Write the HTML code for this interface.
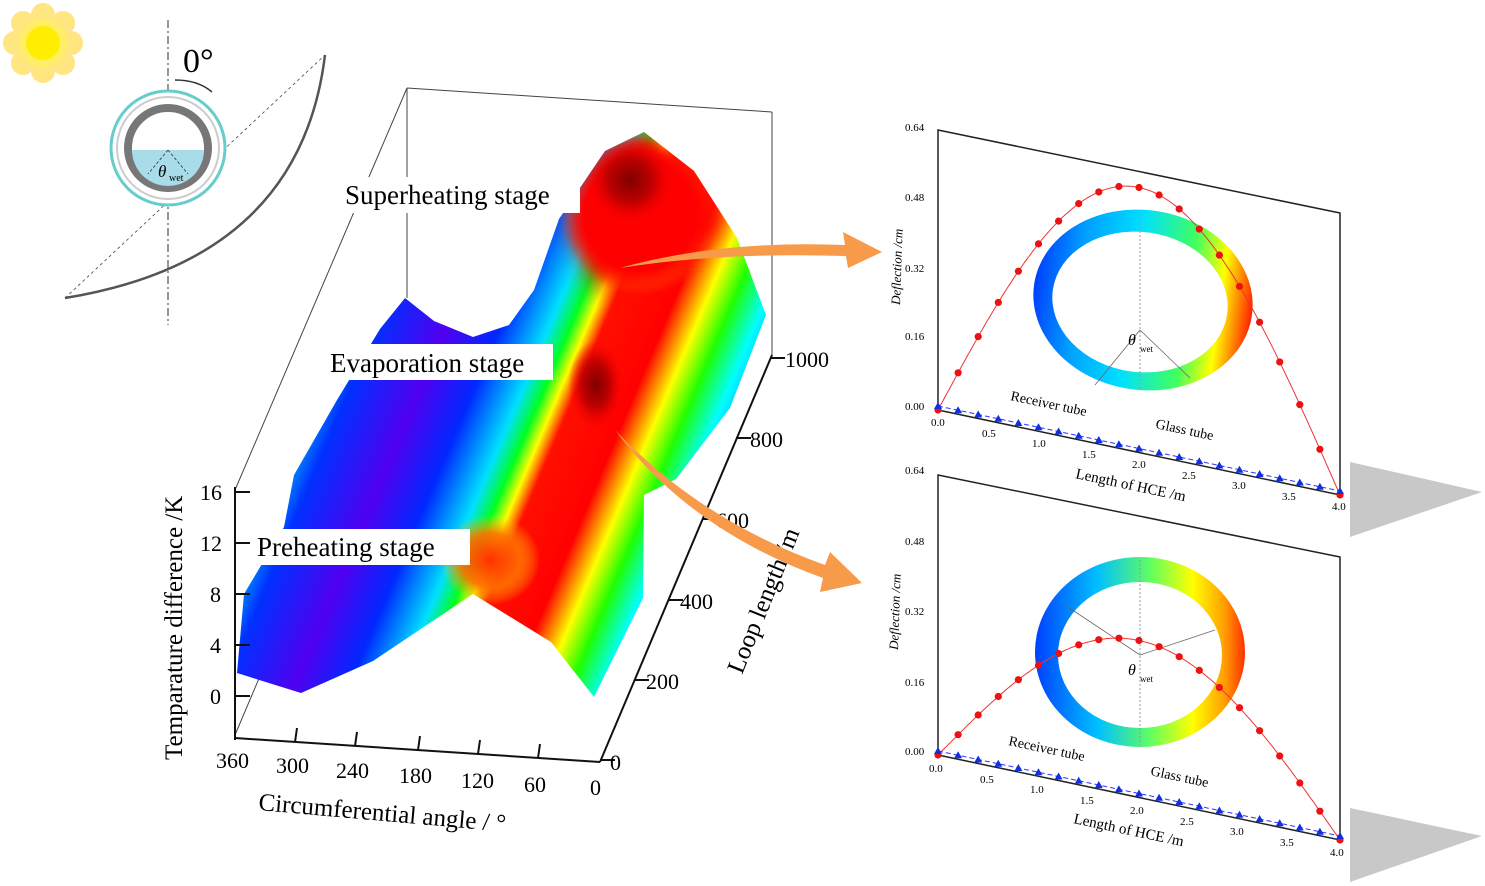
<!DOCTYPE html>
<html><head><meta charset="utf-8"><style>
html,body{margin:0;padding:0;background:#fff;}
svg{display:block;font-family:"Liberation Serif",serif;}
</style></head><body>
<svg width="1485" height="886" viewBox="0 0 1485 886" xmlns="http://www.w3.org/2000/svg">
<defs>
<linearGradient id="surf" gradientUnits="userSpaceOnUse" x1="300" y1="416" x2="760" y2="610">
<stop offset="0" stop-color="#00c0ff"/>
<stop offset="0.07" stop-color="#0030ff"/>
<stop offset="0.2" stop-color="#5000f0"/>
<stop offset="0.3" stop-color="#0028ff"/>
<stop offset="0.39" stop-color="#00e0ff"/>
<stop offset="0.43" stop-color="#00ff20"/>
<stop offset="0.46" stop-color="#ffff00"/>
<stop offset="0.49" stop-color="#ff1000"/>
<stop offset="0.60" stop-color="#ff0000"/>
<stop offset="0.63" stop-color="#ff8000"/>
<stop offset="0.66" stop-color="#ffff00"/>
<stop offset="0.71" stop-color="#20ff00"/>
<stop offset="0.77" stop-color="#00ffff"/>
<stop offset="0.85" stop-color="#0080ff"/>
</linearGradient>
<radialGradient id="dark1" cx="0.5" cy="0.5" r="0.5"><stop offset="0" stop-color="#800000"/><stop offset="0.5" stop-color="#c00000"/><stop offset="1" stop-color="#ff0000" stop-opacity="0"/></radialGradient>
<radialGradient id="redtop" cx="0.5" cy="0.5" r="0.5"><stop offset="0" stop-color="#ff0000"/><stop offset="0.7" stop-color="#ff0000"/><stop offset="1" stop-color="#ff6000" stop-opacity="0"/></radialGradient>
<radialGradient id="orange" cx="0.5" cy="0.5" r="0.5"><stop offset="0" stop-color="#ff3000"/><stop offset="0.6" stop-color="#ff7000" stop-opacity="0.9"/><stop offset="1" stop-color="#ffc000" stop-opacity="0"/></radialGradient>
<linearGradient id="ring" x1="0" y1="0" x2="1" y2="0">
<stop offset="0" stop-color="#0040ff"/><stop offset="0.2" stop-color="#00a0ff"/><stop offset="0.45" stop-color="#00e0ff"/><stop offset="0.7" stop-color="#40ff60"/><stop offset="0.85" stop-color="#ffff00"/><stop offset="1" stop-color="#ff2000"/>
</linearGradient>
<linearGradient id="ring2" x1="0" y1="0" x2="1" y2="0">
<stop offset="0" stop-color="#0040ff"/><stop offset="0.3" stop-color="#00c0ff"/><stop offset="0.55" stop-color="#60ff60"/><stop offset="0.75" stop-color="#ffff00"/><stop offset="0.9" stop-color="#ffa000"/><stop offset="1" stop-color="#ff3000"/>
</linearGradient>
<clipPath id="sc"><polygon points="237,673 301,693 373,661 473,594 551,642 594,697 643,598 644,495 676,479 730,408 766,315 737,238 694,171 644,132 605,151 559,219 534,290 509,325 473,337 434,321 405,298 380,329 337,400 294,475 284,527 244,594"/></clipPath>
<filter id="bl"><feGaussianBlur stdDeviation="12"/></filter>
</defs>

<g transform="translate(43,43)">
<g fill="#ffe680">
<circle cx="0" cy="-28" r="12"/><circle cx="0" cy="28" r="12"/><circle cx="-28" cy="0" r="12"/><circle cx="28" cy="0" r="12"/>
<circle cx="20" cy="20" r="12"/><circle cx="-20" cy="20" r="12"/><circle cx="20" cy="-20" r="12"/><circle cx="-20" cy="-20" r="12"/>
</g>
<circle r="24" fill="#ffee66"/><circle r="17" fill="#ffee00"/>
</g>

<path d="M325,55 Q300,260 65,298" fill="none" stroke="#555" stroke-width="2.5"/>
<line x1="168" y1="20" x2="168" y2="325" stroke="#333" stroke-width="1" stroke-dasharray="8,3,2,3"/>
<line x1="65" y1="298" x2="325" y2="55" stroke="#444" stroke-width="0.8" stroke-dasharray="3,3"/>
<circle cx="168" cy="148" r="57" fill="#fff" stroke="#6cc" stroke-width="3"/>
<circle cx="168" cy="148" r="51" fill="none" stroke="#ccc" stroke-width="2"/>
<circle cx="168" cy="148" r="40" fill="none" stroke="#777" stroke-width="8"/>
<path d="M132,150 L204,150 A36,36 0 0 1 132,150 Z" fill="#a8dce8"/>
<line x1="168" y1="150" x2="148" y2="174" stroke="#333" stroke-width="0.8" stroke-dasharray="3,2"/>
<line x1="168" y1="150" x2="188" y2="174" stroke="#333" stroke-width="0.8" stroke-dasharray="3,2"/>
<text x="158" y="177" font-size="17" font-style="italic">θ</text><text x="169" y="181" font-size="10">wet</text>
<path d="M175,80 Q198,80 212,92" fill="none" stroke="#333" stroke-width="1.5"/>
<text x="183" y="72" font-size="34">0°</text>

<line x1="407" y1="88" x2="407" y2="298" stroke="#444" stroke-width="1"/>
<line x1="407" y1="88" x2="772" y2="112" stroke="#444" stroke-width="1"/>
<line x1="772" y1="112" x2="772" y2="355" stroke="#444" stroke-width="1"/>
<line x1="407" y1="88" x2="235" y2="490" stroke="#444" stroke-width="1"/>
<line x1="235" y1="735" x2="407" y2="330" stroke="#444" stroke-width="1"/>

<polygon points="237,673 301,693 373,661 473,594 551,642 594,697 643,598 644,495 676,479 730,408 766,315 737,238 694,171 644,132 605,151 559,219 534,290 509,325 473,337 434,321 405,298 380,329 337,400 294,475 284,527 244,594" fill="url(#surf)"/>
<g clip-path="url(#sc)">
<ellipse cx="640" cy="215" rx="80" ry="80" fill="url(#redtop)"/>
<path d="M570,230 Q600,150 644,132 Q700,170 720,230 Q660,250 600,290 Z" fill="#ff0000" filter="url(#bl)"/>
<ellipse cx="630" cy="180" rx="45" ry="45" fill="url(#dark1)"/>
<ellipse cx="596" cy="385" rx="28" ry="45" fill="url(#dark1)"/>
<ellipse cx="490" cy="560" rx="50" ry="45" fill="url(#orange)"/>
</g>

<rect x="340" y="177" width="240" height="36" fill="#fff"/>
<text x="345" y="204" font-size="27">Superheating stage</text>
<rect x="325" y="344" width="228" height="36" fill="#fff"/>
<text x="330" y="372" font-size="27">Evaporation stage</text>
<rect x="252" y="529" width="218" height="36" fill="#fff"/>
<text x="257" y="556" font-size="27">Preheating stage</text>

<g stroke="#111" stroke-width="2">
<line x1="235" y1="487" x2="235" y2="740"/>
<line x1="235" y1="492" x2="250" y2="492"/><line x1="235" y1="543" x2="250" y2="543"/>
<line x1="235" y1="594" x2="250" y2="594"/><line x1="235" y1="645" x2="250" y2="645"/>
<line x1="235" y1="696" x2="250" y2="696"/>
<line x1="235" y1="738" x2="600" y2="762"/>
<line x1="295" y1="742" x2="297" y2="728"/><line x1="355" y1="746" x2="357" y2="732"/>
<line x1="418" y1="750" x2="420" y2="736"/><line x1="478" y1="754" x2="480" y2="740"/>
<line x1="538" y1="758" x2="540" y2="744"/>
<line x1="600" y1="762" x2="772" y2="355"/>
<line x1="600" y1="760" x2="615" y2="760"/><line x1="634" y1="680" x2="649" y2="680"/>
<line x1="668" y1="600" x2="683" y2="600"/><line x1="702" y1="519" x2="717" y2="519"/>
<line x1="736" y1="438" x2="751" y2="438"/><line x1="770" y1="358" x2="785" y2="358"/>
</g>
<g font-size="22">
<text x="200" y="500">16</text><text x="200" y="551">12</text><text x="210" y="602">8</text>
<text x="210" y="653">4</text><text x="210" y="704">0</text>
<text x="216" y="768">360</text><text x="276" y="773">300</text><text x="336" y="778">240</text>
<text x="399" y="783">180</text><text x="461" y="788">120</text><text x="524" y="792">60</text><text x="590" y="795">0</text>
<text x="610" y="770">0</text><text x="646" y="689">200</text><text x="680" y="609">400</text>
<text x="716" y="528">600</text><text x="750" y="447">800</text><text x="785" y="367">1000</text>
</g>
<text transform="translate(182,760) rotate(-90)" font-size="25">Temparature difference /K</text>
<text transform="translate(258,810) rotate(5)" font-size="25">Circumferential angle / °</text>
<text transform="translate(742,675) rotate(-68)" font-size="25">Loop length /m</text>

<path d="M620,268 Q720,240 845,245 L843,232 L882,252 L848,268 L846,256 Q720,252 620,268 Z" fill="#f79a4a"/>
<path d="M615,430 Q700,520 825,565 L830,552 L862,583 L820,592 L823,578 Q690,530 615,430 Z" fill="#f79a4a"/>

<polygon points="1350,462 1482,492 1350,537" fill="#c8c8c8"/>
<polygon points="1350,808 1482,836 1350,882" fill="#c8c8c8"/>

<polygon points="938,130 1340,213 1340,495 938,410" fill="#fff" stroke="#222" stroke-width="1.5"/>
<ellipse cx="1143" cy="300" rx="110" ry="90" fill="url(#ring)" transform="rotate(8 1143 300)"/>
<ellipse cx="1140" cy="302" rx="88" ry="70" fill="#fff" transform="rotate(8 1140 302)"/>
<line x1="1140" y1="215" x2="1140" y2="390" stroke="#999" stroke-dasharray="2,2"/>
<line x1="1140" y1="330" x2="1095" y2="385" stroke="#666" stroke-width="0.8"/>
<line x1="1140" y1="330" x2="1190" y2="378" stroke="#666" stroke-width="0.8"/>
<text x="1128" y="345" font-size="16" font-style="italic">θ</text><text x="1140" y="352" font-size="9">wet</text>
<g font-size="11"><text x="905" y="131">0.64</text><text x="905" y="201">0.48</text><text x="905" y="272">0.32</text><text x="905" y="340">0.16</text><text x="905" y="410">0.00</text></g>
<g font-size="11">
<text x="931" y="426">0.0</text><text x="982" y="437">0.5</text><text x="1032" y="447">1.0</text><text x="1082" y="458">1.5</text><text x="1132" y="468">2.0</text><text x="1182" y="479">2.5</text><text x="1232" y="489">3.0</text><text x="1282" y="500">3.5</text><text x="1332" y="510">4.0</text></g>
<text transform="translate(1075,478) rotate(12)" font-size="15">Length of HCE /m</text>
<text transform="translate(900,305) rotate(-88)" font-size="13" font-style="italic">Deflection /cm</text>
<text transform="translate(1010,400) rotate(12)" font-size="14">Receiver tube</text>
<text transform="translate(1155,428) rotate(12)" font-size="14">Glass tube</text>

<polygon points="938,475 1340,557 1340,840 938,755" fill="#fff" stroke="#222" stroke-width="1.5"/>
<ellipse cx="1140" cy="652" rx="105" ry="95" fill="url(#ring2)"/>
<ellipse cx="1140" cy="655" rx="82" ry="73" fill="#fff"/>
<line x1="1140" y1="560" x2="1140" y2="745" stroke="#999" stroke-dasharray="2,2"/>
<line x1="1140" y1="655" x2="1065" y2="605" stroke="#666" stroke-width="0.8"/>
<line x1="1140" y1="655" x2="1215" y2="630" stroke="#666" stroke-width="0.8"/>
<text x="1128" y="675" font-size="16" font-style="italic">θ</text><text x="1140" y="682" font-size="9">wet</text>
<g font-size="11"><text x="905" y="474">0.64</text><text x="905" y="545">0.48</text><text x="905" y="615">0.32</text><text x="905" y="686">0.16</text><text x="905" y="755">0.00</text></g>
<g font-size="11">
<text x="929" y="772">0.0</text><text x="980" y="783">0.5</text><text x="1030" y="793">1.0</text><text x="1080" y="804">1.5</text><text x="1130" y="814">2.0</text><text x="1180" y="825">2.5</text><text x="1230" y="835">3.0</text><text x="1280" y="846">3.5</text><text x="1330" y="856">4.0</text></g>
<text transform="translate(1073,823) rotate(12)" font-size="15">Length of HCE /m</text>
<text transform="translate(898,650) rotate(-88)" font-size="13" font-style="italic">Deflection /cm</text>
<text transform="translate(1008,745) rotate(12)" font-size="14">Receiver tube</text>
<text transform="translate(1150,775) rotate(12)" font-size="14">Glass tube</text>

<g id="series"></g>
<script>
(function(){
var ns="http://www.w3.org/2000/svg",g=document.getElementById("series");
function panel(by,amp){
  var d="",db="";
  for(var i=0;i<=400;i++){var x=i/100,X=938+100.5*x,B=by+21.25*x,Y=B-amp*Math.sin(Math.PI*x/4);
    d+=(i?"L":"M")+X.toFixed(1)+","+Y.toFixed(1);db+=(i?"L":"M")+X.toFixed(1)+","+(B-4).toFixed(1);}
  var p=document.createElementNS(ns,"path");p.setAttribute("d",d);p.setAttribute("fill","none");p.setAttribute("stroke","#e33");p.setAttribute("stroke-width","1");g.appendChild(p);
  var q=document.createElementNS(ns,"path");q.setAttribute("d",db);q.setAttribute("fill","none");q.setAttribute("stroke","#33f");q.setAttribute("stroke-width","1");q.setAttribute("stroke-dasharray","5,3");g.appendChild(q);
  for(var k=0;k<=20;k++){var x=k*0.2,X=938+100.5*x,B=by+21.25*x,Y=B-amp*Math.sin(Math.PI*x/4);
    var c=document.createElementNS(ns,"circle");c.setAttribute("cx",X);c.setAttribute("cy",Y);c.setAttribute("r",3.6);c.setAttribute("fill","#e11");g.appendChild(c);
    var t=document.createElementNS(ns,"polygon");var yy=B-4;t.setAttribute("points",(X-4)+","+(yy+3)+" "+(X+4)+","+(yy+3)+" "+X+","+(yy-4));t.setAttribute("fill","#1030e0");g.appendChild(t);}
}
panel(410,265);panel(755,157);
})();
</script>
</svg>
</body></html>
